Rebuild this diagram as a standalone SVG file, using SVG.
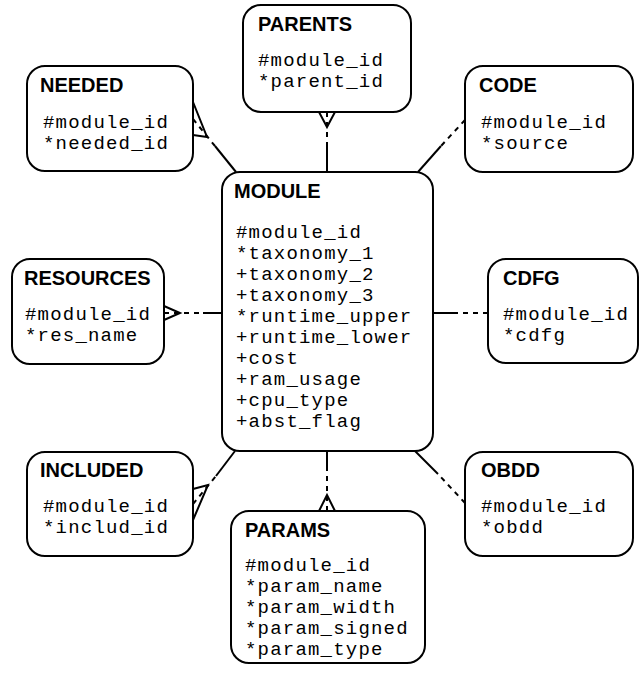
<svg xmlns="http://www.w3.org/2000/svg" width="640" height="675" viewBox="0 0 640 675">
<style>
.box{fill:#fff;stroke:#000;stroke-width:2}
.t{font-family:"Liberation Sans",Arial,sans-serif;font-weight:bold;font-size:20px;fill:#000}
.f{font-family:"Liberation Mono","Courier New",monospace;font-size:19px;letter-spacing:1.2px;fill:#000}
.sol{stroke:#000;stroke-width:2;fill:none}
.dsh{stroke:#000;stroke-width:2;fill:none;stroke-dasharray:5 5}
.ft{stroke:#000;stroke-width:2;fill:none;stroke-linejoin:miter}
</style>
<rect width="640" height="675" fill="#fff"/>
<g id="connectors">
  <line class="dsh" x1="327" y1="112" x2="327" y2="145"/>
  <line class="sol" x1="327" y1="145" x2="327" y2="172"/>
  <polyline class="ft" points="319,112 327,127 335,112"/>
  <line class="dsh" x1="193" y1="119" x2="215" y2="146"/>
  <line class="sol" x1="215" y1="146" x2="236" y2="172"/>
  <polyline class="ft" points="193,102 207,137 193,135"/>
  <line class="dsh" x1="465" y1="120" x2="441" y2="146"/>
  <line class="sol" x1="441" y1="146" x2="418" y2="172"/>
  <line class="dsh" x1="164" y1="313" x2="203" y2="313"/>
  <line class="sol" x1="203" y1="313" x2="222" y2="313"/>
  <polyline class="ft" points="164,306 180,313 164,320"/>
  <line class="dsh" x1="488" y1="313" x2="458" y2="313"/>
  <line class="sol" x1="458" y1="313" x2="433" y2="313"/>
  <line class="dsh" x1="193" y1="504" x2="216" y2="476"/>
  <line class="sol" x1="216" y1="476" x2="235" y2="451"/>
  <polyline class="ft" points="193,489 208,485 193,520"/>
  <line class="dsh" x1="465" y1="503" x2="438" y2="474"/>
  <line class="sol" x1="438" y1="474" x2="415" y2="451"/>
  <line class="dsh" x1="327" y1="511" x2="327" y2="469"/>
  <line class="sol" x1="327" y1="469" x2="327" y2="451"/>
  <polyline class="ft" points="319,511 327,495 335,511"/>
</g>
<g id="PARENTS">
  <rect class="box" x="243" y="5" width="168" height="107" rx="18"/>
  <text class="t" x="258" y="31">PARENTS</text>
  <text class="f" x="258" y="66">#module_id</text>
  <text class="f" x="258" y="87">*parent_id</text>
</g>
<g id="NEEDED">
  <rect class="box" x="27" y="66" width="166" height="105" rx="18"/>
  <text class="t" x="40" y="92">NEEDED</text>
  <text class="f" x="43" y="128">#module_id</text>
  <text class="f" x="43" y="149">*needed_id</text>
</g>
<g id="CODE">
  <rect class="box" x="465" y="66" width="168" height="106" rx="18"/>
  <text class="t" x="479" y="92">CODE</text>
  <text class="f" x="481" y="128">#module_id</text>
  <text class="f" x="481" y="149">*source</text>
</g>
<g id="RESOURCES">
  <rect class="box" x="12" y="259" width="152" height="105" rx="18"/>
  <text class="t" x="24" y="285">RESOURCES</text>
  <text class="f" x="25" y="320">#module_id</text>
  <text class="f" x="25" y="341">*res_name</text>
</g>
<g id="CDFG">
  <rect class="box" x="488" y="259" width="150" height="104" rx="18"/>
  <text class="t" x="503" y="285">CDFG</text>
  <text class="f" x="503" y="320">#module_id</text>
  <text class="f" x="503" y="341">*cdfg</text>
</g>
<g id="MODULE">
  <rect class="box" x="222" y="172" width="211" height="279" rx="18"/>
  <text class="t" x="234" y="198">MODULE</text>
  <text class="f" x="236" y="238">#module_id</text>
  <text class="f" x="236" y="259">*taxonomy_1</text>
  <text class="f" x="236" y="280">+taxonomy_2</text>
  <text class="f" x="236" y="301">+taxonomy_3</text>
  <text class="f" x="236" y="322">*runtime_upper</text>
  <text class="f" x="236" y="343">+runtime_lower</text>
  <text class="f" x="236" y="364">+cost</text>
  <text class="f" x="236" y="385">+ram_usage</text>
  <text class="f" x="236" y="406">+cpu_type</text>
  <text class="f" x="236" y="427">+abst_flag</text>
</g>
<g id="INCLUDED">
  <rect class="box" x="27" y="452" width="166" height="104" rx="18"/>
  <text class="t" x="40" y="477">INCLUDED</text>
  <text class="f" x="43" y="512">#module_id</text>
  <text class="f" x="43" y="533">*includ_id</text>
</g>
<g id="OBDD">
  <rect class="box" x="465" y="452" width="168" height="104" rx="18"/>
  <text class="t" x="481" y="477">OBDD</text>
  <text class="f" x="481" y="512">#module_id</text>
  <text class="f" x="481" y="533">*obdd</text>
</g>
<g id="PARAMS">
  <rect class="box" x="231" y="511" width="194" height="152" rx="18"/>
  <text class="t" x="245" y="537">PARAMS</text>
  <text class="f" x="245" y="571">#module_id</text>
  <text class="f" x="245" y="592">*param_name</text>
  <text class="f" x="245" y="613">*param_width</text>
  <text class="f" x="245" y="634">*param_signed</text>
  <text class="f" x="245" y="655">*param_type</text>
</g>
</svg>
